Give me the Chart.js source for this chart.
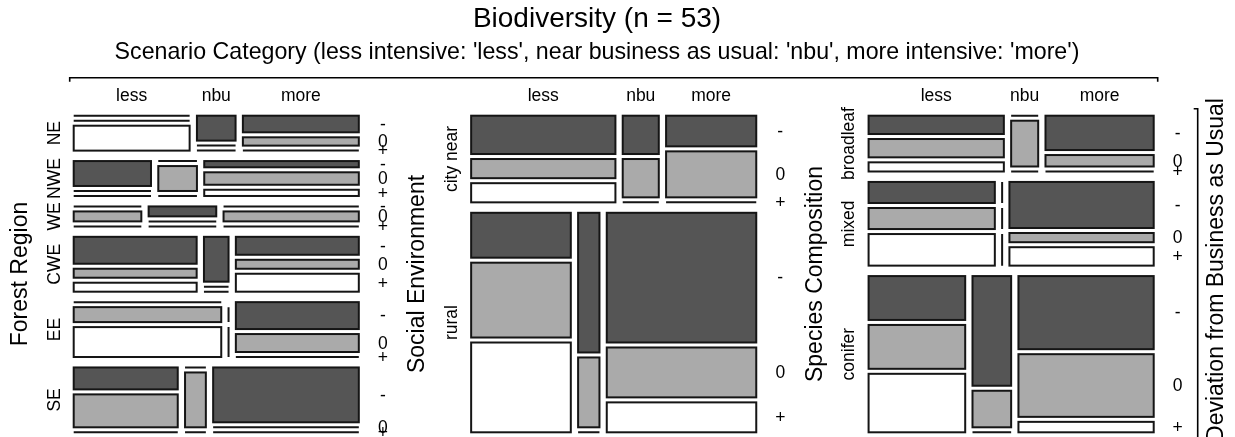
<!DOCTYPE html>
<html>
<head>
<meta charset="utf-8">
<script src="https://cdn.jsdelivr.net/npm/chart.js@4.4.0/dist/chart.umd.min.js"></script>
<style>
  html, body { margin: 0; padding: 0; background: #fff; }
</style>
</head>
<body>
<canvas id="mosaicChart" width="1235" height="437"></canvas>
<script>
// categories
const scenarios = ["less", "nbu", "more"];
const deviations = ["-", "0", "+"];
const regions = ["NE", "NWE", "WE", "CWE", "EE", "SE"];
const socialEnv = ["city near", "rural"];
const speciesComp = ["broadleaf", "mixed", "conifer"];

// counts: [row][scenario][deviation -, 0, +]
const regionCounts = [
  [[0, 0, 3], [1, 0, 0], [2, 1, 0]], // NE
  [[2, 0, 0], [0, 1, 0], [1, 2, 1]], // NWE
  [[0, 1, 0], [1, 0, 0], [0, 2, 0]], // WE
  [[3, 1, 1], [1, 0, 0], [2, 1, 2]], // CWE
  [[0, 2, 4], [0, 0, 0], [3, 2, 0]], // EE
  [[2, 3, 0], [0, 1, 0], [7, 0, 0]]  // SE
];
const socialCounts = [
  [[4, 2, 2], [1, 1, 0], [2, 3, 0]],   // city near
  [[3, 5, 6], [2, 1, 0], [13, 5, 3]]   // rural
];
const speciesCounts = [
  [[2, 2, 1], [0, 1, 0], [3, 1, 0]],   // broadleaf
  [[2, 2, 3], [0, 0, 0], [5, 1, 2]],   // mixed
  [[3, 3, 4], [3, 1, 0], [7, 6, 1]]    // conifer
];

const panelTitles = ["Forest Region", "Social Environment", "Species Composition"];
const panelRows = [regions, socialEnv, speciesComp];
const panelCounts = [regionCounts, socialCounts, speciesCounts];

const devColors = ["#555555", "#aaaaaa", "#ffffff"];
const FONT = '"Liberation Sans", Arial, sans-serif';

// spacing, in scale units (one panel = 1 unit wide and 1 unit high)
const PANEL_STEP = 1.394;
const ROW_GAP = 0.033;
const COL_GAP = 0.0256;
const DEV_GAP = 0.0158;

const sum = (a) => a.reduce((s, v) => s + (Array.isArray(v) ? sum(v) : v), 0);

function layoutPanel(counts, p) {
  const x0 = p * PANEL_STEP;
  const total = sum(counts);
  const rowAvail = 1 - ROW_GAP * (counts.length - 1);
  const cells = [];
  const rows = [];
  let y = 0;
  counts.forEach((row, r) => {
    const rowTotal = sum(row);
    const h = rowAvail * rowTotal / total;
    const colAvail = 1 - COL_GAP * (row.length - 1);
    const firstTotal = sum(row[0]);
    let x = x0;
    const cols = [];
    row.forEach((cell, c) => {
      const cellTotal = sum(cell);
      const w = colAvail * cellTotal / rowTotal;
      const devAvail = h - DEV_GAP * (cell.length - 1);
      // empty column: split like the first column of the row
      const props = cellTotal > 0 ? cell.map(v => v / cellTotal) : row[0].map(v => v / firstTotal);
      let yy = y;
      const devs = [];
      cell.forEach((v, d) => {
        const dh = devAvail * props[d];
        const flat = v === 0 && cellTotal > 0;
        const rect = { x0: x, x1: x + w, y0: yy, y1: flat ? yy : yy + dh, dev: d };
        cells.push(rect);
        devs.push(rect);
        yy += (flat ? 0 : dh) + DEV_GAP;
      });
      cols.push({ x0: x, x1: x + w, devs });
      x += w + COL_GAP;
    });
    rows.push({ y0: y, y1: y + h, cols });
    y += h + ROW_GAP;
  });
  return { x0, x1: x0 + 1, cells, rows };
}

function drawText(ctx, str, x, y, size, rot) {
  ctx.save();
  ctx.translate(x, y);
  if (rot) ctx.rotate(-Math.PI / 2);
  ctx.font = size + "px " + FONT;
  ctx.fillStyle = "#000";
  ctx.textAlign = "center";
  ctx.textBaseline = "middle";
  ctx.fillText(str, 0, 0);
  ctx.restore();
}

const mosaicPlugin = {
  id: "mosaic",
  afterDraw(chart) {
    const ctx = chart.ctx;
    const xs = chart.scales.x, ys = chart.scales.y;
    const area = chart.chartArea;
    const px = (v) => xs.getPixelForValue(v);
    const py = (v) => ys.getPixelForValue(v);
    const titleX = 597;

    drawText(ctx, "Biodiversity (n = " + sum(regionCounts) + ")", titleX, 19, 28);
    drawText(ctx, "Scenario Category (less intensive: 'less', near business as usual: 'nbu', more intensive: 'more')",
      titleX, 53, 23.2);

    // bracket over the scenario axis
    ctx.save();
    ctx.strokeStyle = "#000";
    ctx.lineWidth = 1.6;
    ctx.beginPath();
    const bl = px(0) - 4, br = px(2 * PANEL_STEP + 1) + 4, by = area.top - 38;
    ctx.moveTo(bl, by + 4); ctx.lineTo(bl, by); ctx.lineTo(br, by); ctx.lineTo(br, by + 4);
    // bracket for deviation axis
    const vx = area.right + 44, vt = area.top - 7;
    ctx.moveTo(vx - 4, vt); ctx.lineTo(vx, vt); ctx.lineTo(vx, chart.height + 2);
    ctx.stroke();
    ctx.restore();
    drawText(ctx, "Deviation from Business as Usual", vx + 19, (area.top + area.bottom) / 2 - 4, 23, true);

    panelCounts.forEach((counts, p) => {
      const lay = layoutPanel(counts, p);
      ctx.save();
      ctx.lineWidth = 2;
      ctx.strokeStyle = "#151515";
      lay.cells.forEach((c) => {
        const l = px(c.x0), r = px(c.x1), t = py(c.y0), b = py(c.y1);
        if (r - l > 0 && b - t > 0) {
          ctx.fillStyle = devColors[c.dev];
          ctx.fillRect(l, t, r - l, b - t);
        }
        ctx.strokeRect(l, t, r - l, b - t);
      });
      ctx.restore();

      const left = px(lay.x0), right = px(lay.x1);
      // scenario labels over first row
      lay.rows[0].cols.forEach((col, c) => {
        drawText(ctx, scenarios[c], (px(col.x0) + px(col.x1)) / 2, area.top - 20, 17.5);
      });
      lay.rows.forEach((row, r) => {
        drawText(ctx, panelRows[p][r], left - 19, (py(row.y0) + py(row.y1)) / 2, 17.5, true);
        // deviation labels taken from the last column
        const last = row.cols[row.cols.length - 1];
        last.devs.forEach((d, k) => {
          drawText(ctx, deviations[k], right + 24, (py(d.y0) + py(d.y1)) / 2 + 1, 17.5);
        });
      });
      drawText(ctx, panelTitles[p], left - 53, (area.top + area.bottom) / 2, 23, true);
    });
  }
};

const ctx = document.getElementById("mosaicChart").getContext("2d");
new Chart(ctx, {
  type: "scatter",
  data: { datasets: [] },
  options: {
    responsive: false,
    animation: false,
    devicePixelRatio: 1,
    layout: { padding: { left: 73.7, right: 81.3, top: 115.7, bottom: 4.7 } },
    plugins: { legend: { display: false }, tooltip: { enabled: false } },
    scales: {
      x: { type: "linear", min: 0, max: 2 * PANEL_STEP + 1, display: false },
      y: { type: "linear", min: 0, max: 1, reverse: true, display: false }
    }
  },
  plugins: [mosaicPlugin]
});
</script>
</body>
</html>
